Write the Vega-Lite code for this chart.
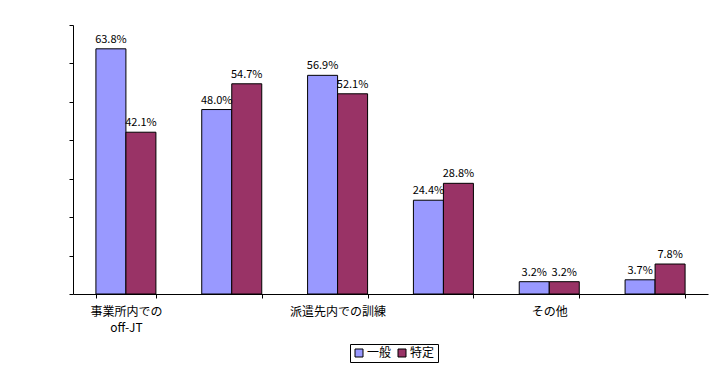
{
  "$schema": "https://vega.github.io/schema/vega-lite/v6.json",
  "width": 635,
  "height": 269,
  "autosize": {"type": "none"},
  "padding": {"left": 73, "top": 25, "right": 12, "bottom": 76},
  "background": "white",
  "data": {
    "values": [
      {"category": "事業所内でのoff-JT", "series": "一般", "value": 63.8},
      {"category": "事業所内でのoff-JT", "series": "特定", "value": 42.1},
      {"category": "事業所外でのoff-JT", "series": "一般", "value": 48.0},
      {"category": "事業所外でのoff-JT", "series": "特定", "value": 54.7},
      {"category": "派遣先内での訓練", "series": "一般", "value": 56.9},
      {"category": "派遣先内での訓練", "series": "特定", "value": 52.1},
      {"category": "通信教育", "series": "一般", "value": 24.4},
      {"category": "通信教育", "series": "特定", "value": 28.8},
      {"category": "その他", "series": "一般", "value": 3.2},
      {"category": "その他", "series": "特定", "value": 3.2},
      {"category": "無回答", "series": "一般", "value": 3.7},
      {"category": "無回答", "series": "特定", "value": 7.8}
    ]
  },
  "transform": [{"calculate": "format(datum.value, '.1f') + '%'", "as": "label"}],
  "encoding": {
    "x": {
      "field": "category",
      "type": "nominal",
      "sort": null,
      "scale": {"paddingInner": 0.433, "paddingOuter": 0.2165},
      "axis": {
        "title": null,
        "labelAngle": 0,
        "labelOverlap": false,
        "labelLimit": 0,
        "labelFontSize": 12,
        "labelColor": "black",
        "labelPadding": 8,
        "labelLineHeight": 16,
        "labelExpr": "datum.value == '事業所内でのoff-JT' ? ['事業所内での', 'off-JT'] : (datum.value == '派遣先内での訓練' || datum.value == 'その他') ? datum.value : ''",
        "tickBand": "extent",
        "ticks": true,
        "tickSize": 4,
        "tickColor": "black",
        "domainColor": "black",
        "grid": false
      }
    },
    "xOffset": {
      "field": "series",
      "type": "nominal",
      "sort": ["一般", "特定"],
      "scale": {"paddingInner": 0, "paddingOuter": 0}
    },
    "y": {
      "field": "value",
      "type": "quantitative",
      "scale": {"domain": [0, 70], "nice": false},
      "axis": {
        "title": null,
        "labels": false,
        "grid": false,
        "values": [0, 10, 20, 30, 40, 50, 60, 70],
        "tickSize": 4,
        "tickColor": "black",
        "domainColor": "black"
      }
    }
  },
  "layer": [
    {
      "mark": {"type": "bar", "stroke": "black", "strokeWidth": 1},
      "encoding": {
        "color": {
          "field": "series",
          "type": "nominal",
          "scale": {"domain": ["一般", "特定"], "range": ["#9999FF", "#993366"]},
          "legend": {
            "orient": "none",
            "legendX": 277,
            "legendY": 319,
            "direction": "horizontal",
            "title": null,
            "strokeColor": "black",
            "fillColor": "white",
            "padding": 3,
            "symbolType": "square",
            "symbolSize": 64,
            "symbolStrokeColor": "black",
            "symbolStrokeWidth": 1,
            "labelFontSize": 12,
            "labelColor": "black",
            "columnPadding": 4,
            "labelOffset": 2
          }
        }
      }
    },
    {
      "mark": {"type": "text", "baseline": "bottom", "dy": -4, "fontSize": 11, "color": "black"},
      "encoding": {"text": {"field": "label"}}
    }
  ],
  "config": {
    "font": "Noto Sans CJK JP",
    "view": {"stroke": null}
  }
}
